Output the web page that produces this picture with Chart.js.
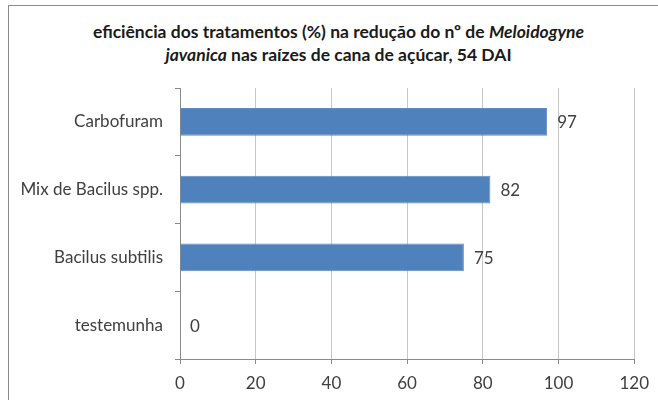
<!DOCTYPE html>
<html>
<head>
<meta charset="utf-8">
<script src="https://cdn.jsdelivr.net/npm/chart.js@4/dist/chart.umd.min.js"></script>
<style>
  html, body { margin: 0; padding: 0; background: #fff; overflow: hidden; width: 658px; height: 400px; }
  #clip { position: absolute; left: 0; top: 0; width: 658px; height: 400px; overflow: hidden; }
  #frame { position: absolute; left: 8px; top: 5px; width: 680px; height: 430px; border-left: 1px solid #8a8a8a; border-top: 1px solid #8a8a8a; }
  #title { position: absolute; left: 8px; top: 20px; width: 661px; text-align: center;
    font: bold 17.5px Lato, "Open Sans", sans-serif; color: #1a1a1a; line-height: 23px; }
  #wrap { position: absolute; left: 0; top: 0; width: 658px; height: 400px; }
</style>
</head>
<body>
<div id="clip">
<div id="frame"></div>
<div id="title">eficiência dos tratamentos (%) na redução do nº de <i>Meloidogyne</i><br><i>javanica</i> nas raízes de cana de açúcar, 54 DAI</div>
<div id="wrap"><canvas id="chart" width="658" height="400"></canvas></div>
</div>
<script>
const categories = ['Carbofuram', 'Mix de Bacilus spp.', 'Bacilus subtilis', 'testemunha'];
const efficiency = [97, 82, 75, 0];
const xTicks = [0, 20, 40, 60, 80, 100, 120];

const FONT = { family: 'Lato, "Open Sans", sans-serif', size: 17 };
const TEXT = '#404040';

// value labels just past the end of each bar
const valueLabels = {
  id: 'valueLabels',
  afterDatasetsDraw(chart) {
    const ctx = chart.ctx;
    const meta = chart.getDatasetMeta(0);
    ctx.save();
    ctx.font = `${FONT.size}px ${FONT.family}`;
    ctx.fillStyle = TEXT;
    ctx.textAlign = 'left';
    ctx.textBaseline = 'middle';
    meta.data.forEach((bar, i) => {
      ctx.fillText(String(efficiency[i]), bar.x + 10, bar.y + 1);
    });
    ctx.restore();
  },
};

new Chart(document.getElementById('chart').getContext('2d'), {
  type: 'bar',
  data: {
    labels: categories,
    datasets: [{
      data: efficiency,
      backgroundColor: '#4f81bd',
      borderColor: '#5b8cc8',
      borderWidth: 1,
      barPercentage: 0.41,
      categoryPercentage: 1,
    }],
  },
  options: {
    indexAxis: 'y',
    responsive: false,
    animation: false,
    layout: { padding: { top: 88, right: 22, left: 0, bottom: 0 } },
    plugins: { legend: { display: false }, tooltip: { enabled: false }, title: { display: false } },
    scales: {
      x: {
        min: 0,
        max: 120,
        afterBuildTicks: (s) => { s.ticks = xTicks.map((v) => ({ value: v })); },
        afterFit: (s) => { s.height = 41; },
        grid: { color: '#c8c8c8', tickColor: '#8a8a8a', tickLength: 5 },
        border: { color: '#8a8a8a' },
        ticks: { color: TEXT, font: FONT, padding: 9 },
      },
      y: {
        afterFit: (s) => { s.width = 180; },
        grid: { drawOnChartArea: false, color: '#8a8a8a', tickLength: 5 },
        border: { color: '#8a8a8a' },
        ticks: { color: TEXT, font: FONT, padding: 12 },
      },
    },
  },
  plugins: [valueLabels],
});
</script>
</body>
</html>
